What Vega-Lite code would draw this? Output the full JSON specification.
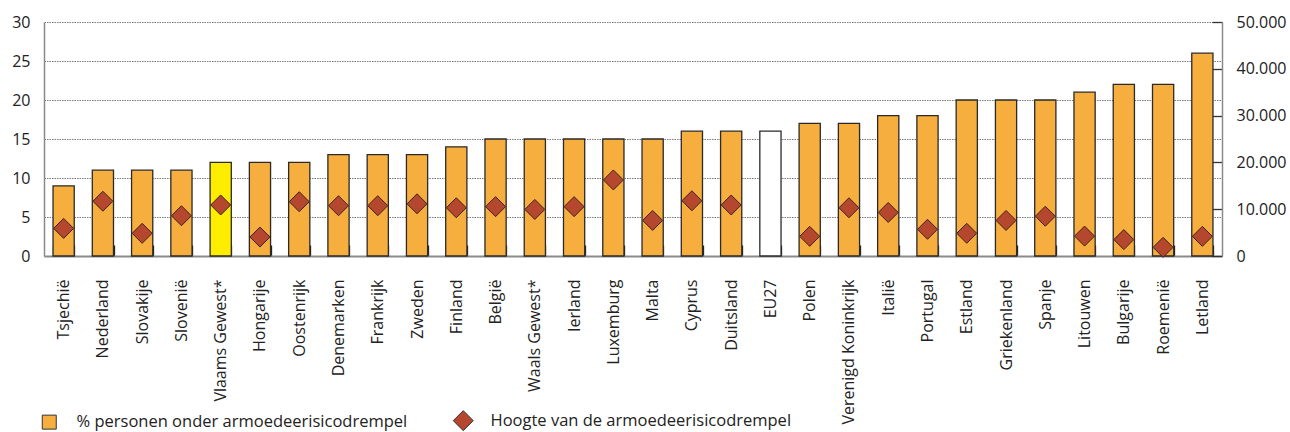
{
  "$schema": "https://vega.github.io/schema/vega-lite/v6.json",
  "autosize": {"type": "none"},
  "width": 1178,
  "height": 234,
  "padding": {"left": 44, "top": 22, "right": 68, "bottom": 176},
  "background": "#ffffff",
  "config": {
    "view": {"stroke": null},
    "font": "Open Sans",
    "axis": {"labelFont": "Open Sans", "labelFontSize": 15, "labelColor": "#222222", "title": null}
  },
  "data": {
    "values": [
      {"land": "Tsjechië", "pct": 9, "drempel": 5900},
      {"land": "Nederland", "pct": 11, "drempel": 11700},
      {"land": "Slovakije", "pct": 11, "drempel": 4850},
      {"land": "Slovenië", "pct": 11, "drempel": 8600},
      {"land": "Vlaams Gewest*", "pct": 12, "drempel": 10900},
      {"land": "Hongarije", "pct": 12, "drempel": 4050},
      {"land": "Oostenrijk", "pct": 12, "drempel": 11600},
      {"land": "Denemarken", "pct": 13, "drempel": 10750},
      {"land": "Frankrijk", "pct": 13, "drempel": 10750},
      {"land": "Zweden", "pct": 13, "drempel": 11150},
      {"land": "Finland", "pct": 14, "drempel": 10300},
      {"land": "België", "pct": 15, "drempel": 10550},
      {"land": "Waals Gewest*", "pct": 15, "drempel": 9950},
      {"land": "Ierland", "pct": 15, "drempel": 10550},
      {"land": "Luxemburg", "pct": 15, "drempel": 16250},
      {"land": "Malta", "pct": 15, "drempel": 7600},
      {"land": "Cyprus", "pct": 16, "drempel": 11800},
      {"land": "Duitsland", "pct": 16, "drempel": 10900},
      {"land": "EU27", "pct": 16, "drempel": null},
      {"land": "Polen", "pct": 17, "drempel": 4200},
      {"land": "Verenigd Koninkrijk", "pct": 17, "drempel": 10300},
      {"land": "Italië", "pct": 18, "drempel": 9300},
      {"land": "Portugal", "pct": 18, "drempel": 5700},
      {"land": "Estland", "pct": 20, "drempel": 4850},
      {"land": "Griekenland", "pct": 20, "drempel": 7600},
      {"land": "Spanje", "pct": 20, "drempel": 8500},
      {"land": "Litouwen", "pct": 21, "drempel": 4250},
      {"land": "Bulgarije", "pct": 22, "drempel": 3500},
      {"land": "Roemenië", "pct": 22, "drempel": 1850},
      {"land": "Letland", "pct": 26, "drempel": 4200}
    ]
  },
  "encoding": {
    "x": {
      "field": "land",
      "type": "nominal",
      "sort": null,
      "scale": {"paddingInner": 0.46, "paddingOuter": 0.23},
      "axis": {
        "labelAngle": -90,
        "labelPadding": 34,
        "labelFontSize": 16,
        "labelLimit": 300,
        "tickBand": "extent",
        "tickSize": -11,
        "tickColor": "#222222",
        "tickWidth": 1.3,
        "domainColor": "#8a8a8a",
        "domainWidth": 2
      }
    }
  },
  "layer": [
    {
      "mark": {"type": "bar", "stroke": "#2a2a2a", "strokeWidth": 1.3},
      "encoding": {
        "y": {
          "field": "pct",
          "type": "quantitative",
          "scale": {"domain": [0, 30]},
          "axis": {
            "values": [0, 5, 10, 15, 20, 25, 30],
            "grid": true,
            "gridDash": [1.5, 1],
            "gridColor": "#7a7a7a",
            "gridWidth": 1.2,
            "ticks": false,
            "labelPadding": 14,
            "labelFontSize": 16,
            "domainColor": "#8a8a8a",
            "domainWidth": 1.5
          }
        },
        "fill": {
          "datum": "% personen onder armoedeerisicodrempel",
          "scale": {
            "domain": ["% personen onder armoedeerisicodrempel", "Hoogte van de armoedeerisicodrempel"],
            "range": ["#F6AE3E", "#B5472F"]
          },
          "condition": [
            {"test": "datum.land === 'EU27'", "value": "#ffffff"},
            {"test": "datum.land === 'Vlaams Gewest*'", "value": "#FFED00"}
          ],
          "legend": {
            "title": null,
            "orient": "none",
            "legendX": -3,
            "legendY": 390,
            "direction": "horizontal",
            "columns": 2,
            "padding": 0,
            "labelFont": "Open Sans",
            "labelFontSize": 16.5,
            "labelColor": "#222222",
            "labelLimit": 600,
            "labelOffset": 19,
            "columnPadding": 43,
            "symbolStrokeColor": "#333333",
            "symbolStrokeWidth": 1,
            "encode": {
              "symbols": {
                "update": {
                  "shape": {"signal": "datum.value === 'Hoogte van de armoedeerisicodrempel' ? 'diamond' : 'square'"},
                  "size": {"signal": "datum.value === 'Hoogte van de armoedeerisicodrempel' ? 400 : 196"},
                  "stroke": {"value": "#333333"},
                  "strokeWidth": {"value": 1}
                }
              }
            }
          }
        }
      }
    },
    {
      "transform": [{"filter": "isValid(datum.drempel)"}],
      "mark": {"type": "point", "shape": "diamond", "filled": true, "size": 400, "stroke": "#3a2418", "strokeWidth": 1, "opacity": 1},
      "encoding": {
        "y": {
          "field": "drempel",
          "type": "quantitative",
          "scale": {"domain": [0, 50000]},
          "axis": {
            "orient": "right",
            "values": [0, 10000, 20000, 30000, 40000, 50000],
            "grid": false,
            "tickSize": -10,
            "tickColor": "#333333",
            "tickWidth": 1.3,
            "labelPadding": 24,
            "labelFontSize": 16,
            "domainColor": "#8a8a8a",
            "domainWidth": 1.5,
            "labelExpr": "replace(format(datum.value, ','), ',', '.')"
          }
        },
        "fill": {"datum": "Hoogte van de armoedeerisicodrempel"}
      }
    }
  ],
  "resolve": {"scale": {"y": "independent"}}
}
